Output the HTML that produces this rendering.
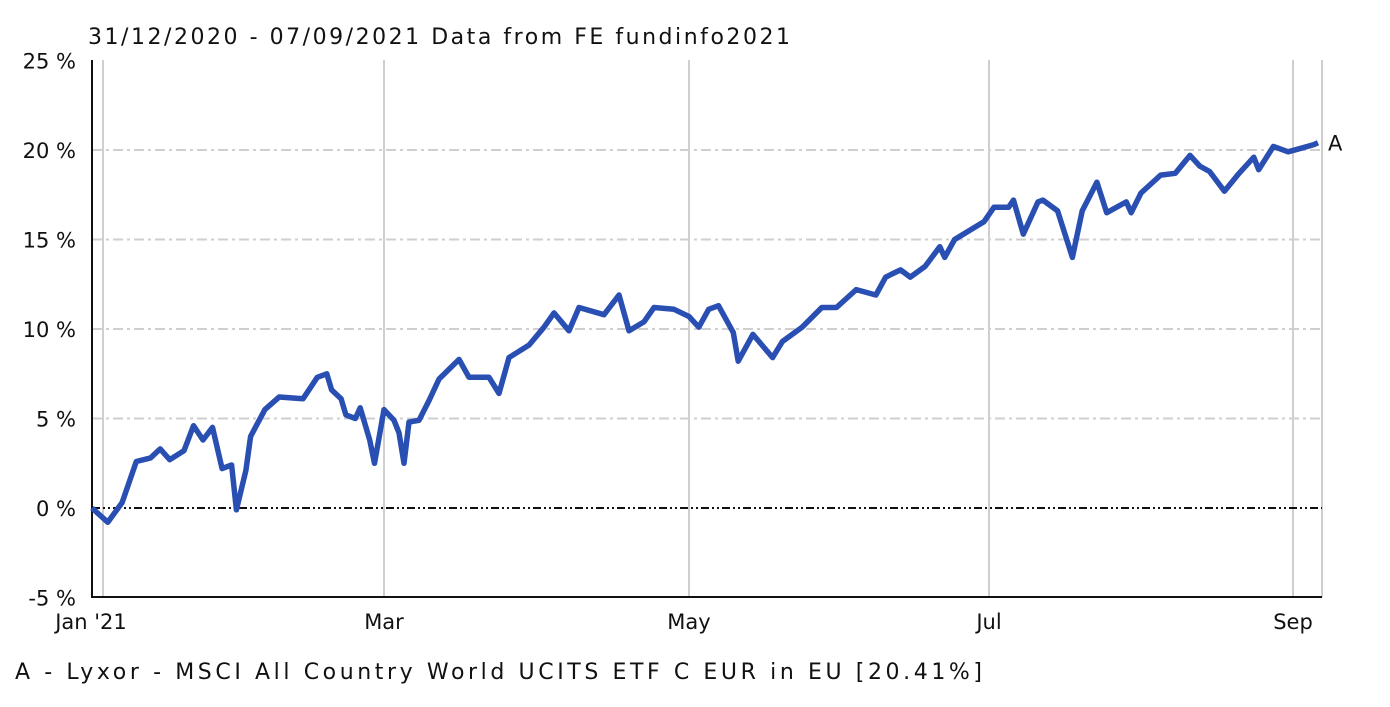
<!DOCTYPE html>
<html><head><meta charset="utf-8"><style>
body{margin:0;background:#fff;width:1390px;height:702px;overflow:hidden}
svg text{font-family:"DejaVu Sans","Liberation Sans",sans-serif;fill:#111}
</style></head><body>
<svg id="c" width="1390" height="702">
<text x="88" y="44" font-size="22" textLength="702" lengthAdjust="spacing">31/12/2020 - 07/09/2021 Data from FE fundinfo2021</text>
<g id="grid"></g><g id="axes"></g><g id="series"></g>
<text x="15" y="679" font-size="22" textLength="967" lengthAdjust="spacing">A - Lyxor - MSCI All Country World UCITS ETF C EUR in EU [20.41%]</text>
</svg>
<script>
const days=[0,2,5,8,11,13,15,18,20,22,24,26,28,29,31,32,35,38,43,46,48,49,51,52,54,55,57,58,60,62,63,64,65,67,69,71,75,77,81,83,85,89,92,94,97,99,104,107,109,112,114,118,121,123,125,127,130,131,134,138,140,144,148,151,155,159,161,164,166,169,172,173,175,181,183,186,187,189,192,193,196,199,201,204,206,210,211,213,217,220,223,225,227,230,233,236,237,240,243,246,249,250];
const values=[0,-0.8,0.3,2.6,2.8,3.3,2.7,3.2,4.6,3.8,4.5,2.2,2.4,-0.1,2.1,4.0,5.5,6.2,6.1,7.3,7.5,6.6,6.1,5.2,5.0,5.6,3.8,2.5,5.5,4.9,4.2,2.5,4.8,4.9,6.0,7.2,8.3,7.3,7.3,6.4,8.4,9.1,10.1,10.9,9.9,11.2,10.8,11.9,9.9,10.4,11.2,11.1,10.7,10.1,11.1,11.3,9.8,8.2,9.7,8.4,9.3,10.1,11.2,11.2,12.2,11.9,12.9,13.3,12.9,13.5,14.6,14.0,15.0,16.0,16.8,16.8,17.2,15.3,17.1,17.2,16.6,14.0,16.6,18.2,16.5,17.1,16.5,17.6,18.6,18.7,19.7,19.1,18.8,17.7,18.7,19.6,18.9,20.2,19.9,20.1,20.3,20.41];
const yTicks=[25,20,15,10,5,0,-5];
const monthLabels=["Jan '21","Mar","May","Jul","Sep"];
const monthDays=[1,60,121,182,244];
const ad=[0,1,60,121,182,244,250], ax=[92,103,384,689,989,1293,1318];
function X(d){for(let i=1;i<ad.length;i++){if(d<=ad[i]||i==ad.length-1){return ax[i-1]+(d-ad[i-1])*(ax[i]-ax[i-1])/(ad[i]-ad[i-1]);}}}
function Y(v){return 508-v*17.9;}
const NS="http://www.w3.org/2000/svg";
function mk(p,t,a){const e=document.createElementNS(NS,t);for(const k in a)e.setAttribute(k,a[k]);p.appendChild(e);return e;}
const g=document.getElementById('grid'),A=document.getElementById('axes'),S=document.getElementById('series');
yTicks.forEach(v=>{
 if(v!==25&&v!==-5&&v!==0){const l=mk(g,'line',{x1:92,x2:1322,y1:Y(v),y2:Y(v),stroke:'#cfcfcf','stroke-width':2,'stroke-dasharray':'10 4 3 4'});
 
 }
 const t=mk(A,'text',{x:76,y:Y(v)+8,'font-size':21,'text-anchor':'end'});t.textContent=v+' %';
 
 
});
monthDays.forEach((d,i)=>{
 const l=mk(g,'line',{x1:X(d),x2:X(d),y1:60,y2:597,stroke:'#cfcfcf','stroke-width':2});
 
 
 const t=mk(A,'text',{x:X(d)-(i==0?12:0),y:629,'font-size':21,'text-anchor':'middle'});t.textContent=monthLabels[i];
 
 
});
const r=mk(g,'line',{x1:1322,x2:1322,y1:60,y2:597,stroke:'#cfcfcf','stroke-width':2});


const z=mk(A,'line',{x1:92,x2:1322,y1:Y(0),y2:Y(0),stroke:'#111','stroke-width':2,'stroke-dasharray':'8 3 2 3 2 3'});


const ya=mk(A,'line',{x1:92,x2:92,y1:60,y2:598,stroke:'#111','stroke-width':2});


const xa=mk(A,'line',{x1:91,x2:1322,y1:597,y2:597,stroke:'#111','stroke-width':2});


const p=mk(S,'polyline',{points:days.map((d,i)=>X(d).toFixed(1)+','+Y(values[i]).toFixed(1)).join(' '),fill:'none',stroke:'#2a4fb2','stroke-width':5.5,'stroke-linejoin':'round'});


const lb=mk(S,'text',{x:1328,y:Y(values[values.length-1])+8,'font-size':21});lb.textContent='A';


</script>
</body></html>
